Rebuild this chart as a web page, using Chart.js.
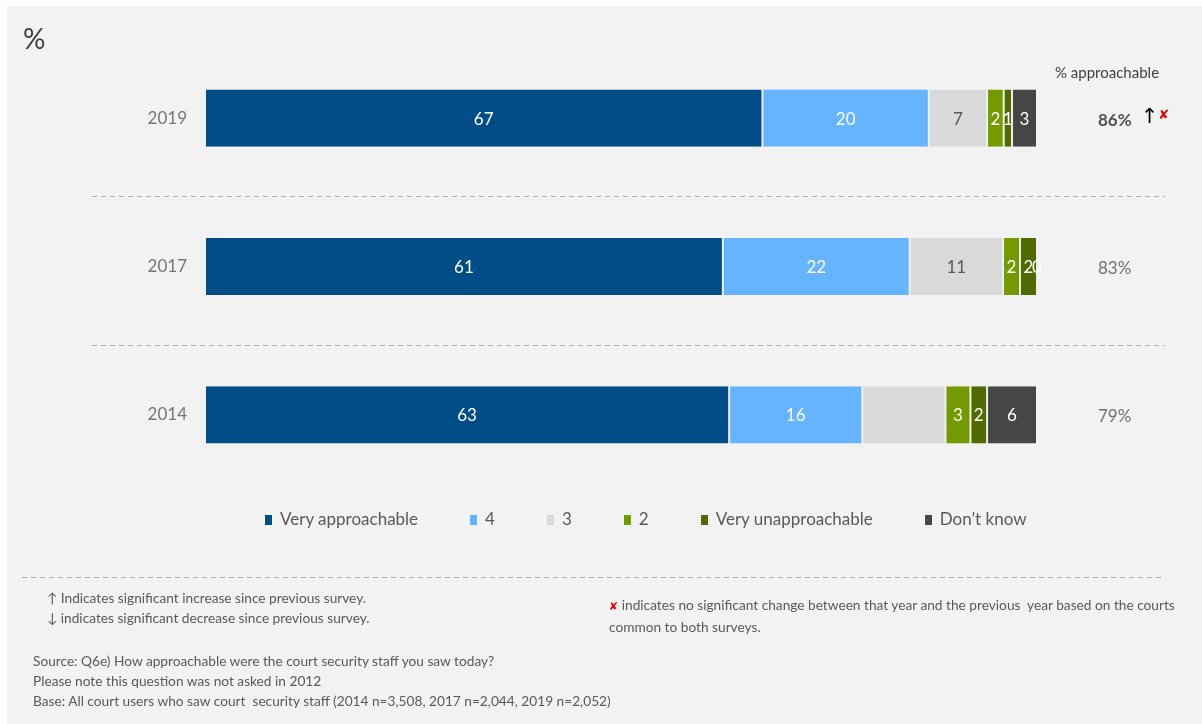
<!DOCTYPE html>
<html>
<head>
<meta charset="utf-8">
<script src="https://cdn.jsdelivr.net/npm/chart.js@4"></script>
<style>
  body { margin: 0; background: #fff; font-family: Lato, sans-serif; }
  #panel { position: absolute; left: 7px; top: 6px; width: 1195px; height: 718px; background: #f2f2f2; }
  #chart { position: absolute; left: 0; top: 0; }
  .txt { position: absolute; white-space: nowrap; color: #595959; }
  .note { font-size: 13.7px; line-height: 20px; }
  #pct { left: 23px; top: 21px; font-size: 28px; color: #404040; }
  #legend { position: absolute; left: 265px; top: 508px; display: flex; gap: 52px; font-size: 17px; color: #595959; }
  #legend span.sw { display: inline-block; width: 7px; height: 10px; margin-right: 8px; }
  .red { color: #e00000; font-family: "DejaVu Sans", sans-serif; font-size: 11px; font-weight: bold; }
</style>
</head>
<body>
<div id="panel"></div>
<canvas id="chart" width="1202" height="724"></canvas>
<div class="txt" id="pct">%</div>
<div id="legend"></div>
<div class="txt note" style="left:47px; top:588px;">&#8593; Indicates significant increase since previous survey.<br>&#8595; indicates significant decrease since previous survey.</div>
<div class="txt note" style="left:609px; top:595px;"><span class="red">&#10008;</span> indicates no significant change between that year and the previous&nbsp; year based on the courts<br>common to both surveys.</div>
<div class="txt note" style="left:33px; top:651px;">Source: Q6e) How approachable were the court security staff you saw today?<br>Please note this question was not asked in 2012<br>Base: All court users who saw court&nbsp; security staff (2014 n=3,508, 2017 n=2,044, 2019 n=2,052)</div>
<script>
const years = ['2019', '2017', '2014'];
const seriesNames = ['Very approachable', '4', '3', '2', 'Very unapproachable', 'Don\u2019t know'];
const veryApproachable = [67, 61, 63];
const four = [20, 22, 16];
const three = [7, 11, 10];
const two = [2, 2, 3];
const veryUnapproachable = [1, 2, 2];
const dontKnow = [3, 0, 6];
const approachable = [86, 83, 79];
const sigIncrease = [true, false, false];
const noSigChange = [true, false, false];
// the "3" segment of 2014 carries no value label
const unlabelled = [[2, 2]];

const seriesValues = [veryApproachable, four, three, two, veryUnapproachable, dontKnow];
const colors = ['#014d88', '#66b3ff', '#d9d9d9', '#739a00', '#4f6a00', '#464646'];
const labelColors = ['#ffffff', '#ffffff', '#595959', '#ffffff', '#ffffff', '#ffffff'];

// each row is drawn as a share of its own total (100% stacked)
const rowTotals = years.map((y, i) => seriesValues.reduce((s, v) => s + v[i], 0));

const datasets = seriesValues.map((vals, si) => ({
  label: seriesNames[si],
  data: vals.map((v, i) => v / rowTotals[i] * 100),
  backgroundColor: colors[si],
  borderColor: '#eeeeee',
  borderWidth: { left: 1, right: 1, top: 0, bottom: 0 },
  borderSkipped: false,
  barPercentage: 0.385,
  categoryPercentage: 1
}));

// legend
const legend = document.getElementById('legend');
seriesNames.forEach((name, i) => {
  const item = document.createElement('div');
  item.innerHTML = '<span class="sw" style="background:' + colors[i] + '"></span>' + name;
  legend.appendChild(item);
});

const extras = {
  id: 'extras',
  beforeDatasetsDraw(chart) {
    const ctx = chart.ctx;
    const yScale = chart.scales.y;
    ctx.save();
    ctx.strokeStyle = '#b0b0b0';
    ctx.lineWidth = 1;
    ctx.setLineDash([5, 4]);
    for (let i = 0; i < years.length - 1; i++) {
      const y = Math.round((yScale.getPixelForValue(i) + yScale.getPixelForValue(i + 1)) / 2 + 4) + 0.5;
      ctx.beginPath();
      ctx.moveTo(92, y);
      ctx.lineTo(1165, y);
      ctx.stroke();
    }
    ctx.beginPath();
    ctx.moveTo(22, 577.5);
    ctx.lineTo(1165, 577.5);
    ctx.stroke();
    ctx.restore();
  },
  afterDatasetsDraw(chart) {
    const ctx = chart.ctx;
    ctx.save();
    ctx.textAlign = 'center';
    ctx.textBaseline = 'middle';
    ctx.font = '17px Lato';
    chart.data.datasets.forEach((ds, si) => {
      ctx.fillStyle = labelColors[si];
      chart.getDatasetMeta(si).data.forEach((bar, ri) => {
        if (unlabelled.some(([s, r]) => s === si && r === ri)) return;
        ctx.fillText(String(seriesValues[si][ri]), (bar.x + bar.base) / 2, bar.y + 1);
      });
    });

    // % approachable column
    const yScale = chart.scales.y;
    ctx.fillStyle = '#404040';
    ctx.font = '15px Lato';
    ctx.fillText('% approachable', 1107, 73);
    years.forEach((yr, i) => {
      const y = yScale.getPixelForValue(i) + 2;
      const txt = approachable[i] + '%';
      ctx.textAlign = 'left';
      ctx.font = (sigIncrease[i] ? 'bold ' : '') + '17px Lato';
      ctx.fillStyle = sigIncrease[i] ? '#505050' : '#707070';
      ctx.fillText(txt, 1098, y);
      let x = 1098 + ctx.measureText(txt).width + 9;
      if (sigIncrease[i]) {
        ctx.fillStyle = '#000000';
        ctx.font = '21px "DejaVu Sans"';
        ctx.fillText('\u2191', x, y - 3);
        x += ctx.measureText('\u2191').width;
      }
      if (noSigChange[i]) {
        ctx.fillStyle = '#e00000';
        ctx.font = 'bold 13px "DejaVu Sans"';
        ctx.fillText('\u2718', x, y - 5);
      }
    });
    ctx.restore();
  }
};

new Chart(document.getElementById('chart'), {
  type: 'bar',
  data: { labels: years, datasets },
  options: {
    responsive: false,
    animation: false,
    indexAxis: 'y',
    layout: { padding: { top: 44, bottom: 235, right: 165, left: 0 } },
    plugins: { legend: { display: false }, tooltip: { enabled: false } },
    scales: {
      x: { stacked: true, min: 0, max: 100, display: false },
      y: {
        stacked: true,
        grid: { display: false, drawTicks: false },
        border: { display: false },
        ticks: { color: '#767676', font: { family: 'Lato', size: 17 }, padding: 18 },
        afterFit(scale) { scale.width = 205; }
      }
    }
  },
  plugins: [extras]
});
</script>
</body>
</html>
